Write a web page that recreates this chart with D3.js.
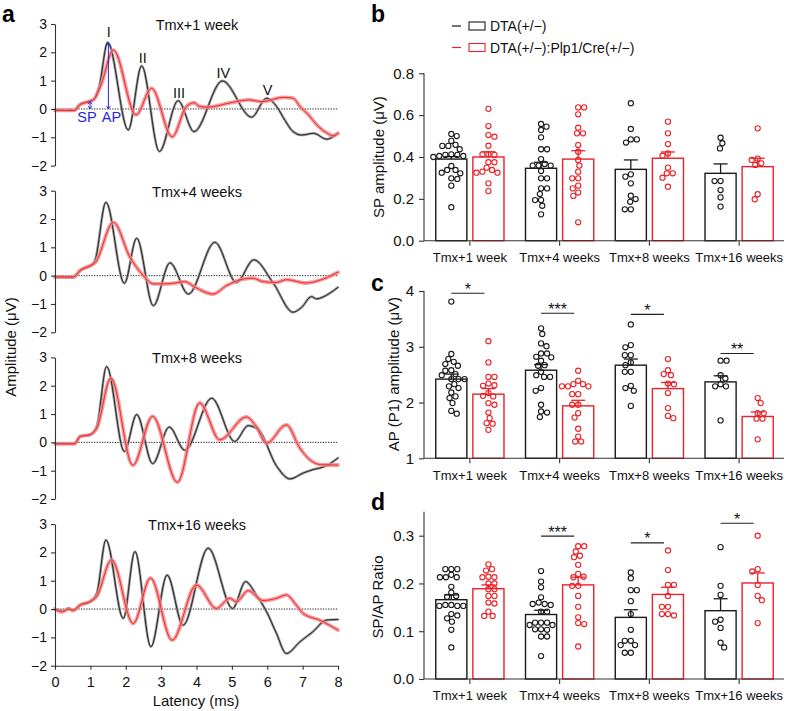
<!DOCTYPE html>
<html><head><meta charset="utf-8">
<script src="https://cdn.jsdelivr.net/npm/d3@7"></script>
<style>body{margin:0;background:#fff} svg{display:block}</style>
</head><body>
<svg id="chart" width="788" height="711"></svg>
<script>
// ---------------- DATA ----------------
const panelATitles = ["Tmx+1 week", "Tmx+4 weeks", "Tmx+8 weeks", "Tmx+16 weeks"];
const ampTicks = [-2, -1, 0, 1, 2, 3];
const latencyTicks = [0, 1, 2, 3, 4, 5, 6, 7, 8];

// Tmx+1 week
const w1BlackT = [0, 0.3, 0.55, 0.7, 0.95, 1.1, 1.25, 1.49, 2.07, 2.45, 2.95, 3.48, 3.93, 4.73, 5.56, 5.98, 6.27, 6.5, 6.73, 6.97, 7.31, 7.68, 8.0];
const w1BlackV = [-0.03, -0.05, -0.05, 0.15, 0.26, 0.34, 0.8, 2.35, -0.74, 1.52, -1.5, 0.29, -0.8, 0.99, -0.29, 0.38, 0.08, -0.4, -0.8, -0.92, -0.86, -1.07, -0.86];
const w1RedT = [0, 0.3, 0.55, 0.7, 0.95, 1.1, 1.3, 1.65, 2.29, 2.73, 3.31, 3.71, 3.93, 4.07, 4.3, 4.97, 5.47, 5.85, 6.45, 6.73, 6.93, 7.17, 7.4, 7.73, 7.86, 8.0];
const w1RedV = [-0.05, -0.05, -0.05, 0.15, 0.26, 0.34, 0.85, 2.08, -0.21, 0.73, -0.98, 0.08, 0.22, 0.1, 0.06, 0.22, 0.32, 0.26, 0.41, 0.38, 0.08, -0.21, -0.56, -0.88, -0.95, -0.86];
// Tmx+4 weeks
const w4BlackT = [0, 0.3, 0.52, 0.71, 1.04, 1.13, 1.44, 1.96, 2.31, 2.78, 3.25, 3.77, 4.52, 5.13, 5.62, 6.16, 6.73, 6.97, 7.25, 7.39, 7.73, 8.0];
const w4BlackV = [-0.03, -0.05, -0.05, 0.18, 0.38, 0.53, 2.59, -0.27, 1.32, -1.06, 0.45, -0.65, 1.18, -0.24, 0.56, -0.24, -1.29, -1.12, -0.74, -0.82, -0.65, -0.41];
const w4RedT = [0, 0.3, 0.52, 0.71, 1.04, 1.13, 1.65, 2.12, 2.5, 2.78, 3.06, 3.39, 3.67, 3.96, 4.47, 4.85, 5.32, 5.6, 5.88, 6.26, 6.54, 7.1, 7.58, 8.0];
const w4RedV = [-0.05, -0.05, -0.05, 0.18, 0.38, 0.45, 1.88, 0.65, 0.0, -0.29, -0.29, -0.26, -0.21, -0.41, -0.65, -0.35, -0.12, -0.09, -0.21, -0.24, -0.14, -0.26, -0.12, 0.12];
// Tmx+8 weeks
const w8BlackT = [0, 0.3, 0.55, 0.71, 0.99, 1.18, 1.46, 1.96, 2.31, 2.76, 3.23, 3.67, 4.43, 5.08, 5.46, 5.75, 6.27, 6.64, 7.02, 7.3, 7.63, 8.0];
const w8BlackV = [-0.03, -0.05, -0.05, 0.21, 0.27, 0.56, 2.68, -0.32, 0.98, -0.75, 0.54, -0.28, 1.56, 0.03, 0.59, 0.45, -0.85, -1.29, -1.08, -0.96, -0.85, -0.55];
const w8RedT = [0, 0.3, 0.55, 0.71, 0.99, 1.18, 1.58, 2.2, 2.76, 3.46, 4.09, 4.66, 5.41, 5.69, 5.98, 6.54, 6.92, 7.2, 7.53, 8.0];
const w8RedV = [-0.05, -0.05, -0.05, 0.21, 0.27, 0.5, 2.27, -0.81, 0.92, -1.41, 1.39, 0.09, 0.9, 0.56, -0.03, 0.62, -0.2, -0.61, -0.79, -0.8];
// Tmx+16 weeks
const w16BlackT = [0, 0.24, 0.38, 0.52, 0.71, 0.99, 1.18, 1.44, 1.93, 2.26, 2.71, 3.17, 3.62, 4.33, 5.02, 5.39, 5.69, 5.98, 6.26, 6.54, 6.92, 7.29, 7.67, 8.0];
const w16BlackV = [0, -0.06, 0.03, -0.03, 0.14, 0.26, 0.55, 2.44, -0.33, 2.03, -1.33, 1.2, -0.57, 2.15, 0.02, 0.97, 0.5, -0.09, -0.86, -1.57, -1.16, -0.8, -0.39, -0.37];
const w16RedT = [0, 0.2, 0.38, 0.52, 0.71, 0.99, 1.18, 1.6, 2.21, 2.7, 3.31, 4.0, 4.56, 4.94, 5.13, 5.46, 5.88, 6.26, 6.54, 6.82, 7.01, 7.48, 8.0];
const w16RedV = [0, -0.1, 0.0, -0.05, 0.14, 0.26, 0.45, 1.74, -0.51, 1.09, -1.1, 0.85, 0.02, 0.38, 0.26, 0.65, 0.3, 0.38, 0.5, 0.14, -0.15, -0.39, -0.74];

const peakLabels = ["I", "II", "III", "IV", "V"];
const peakT = [1.49, 2.45, 3.48, 4.73, 5.98];
const peakV = [2.35, 1.52, 0.29, 0.99, 0.38];
const markerLabels = ["SP", "AP"];
const markerT = [0.99, 1.51];
const markerV = [0.27, 2.33];

const categories = ["Tmx+1 week", "Tmx+4 weeks", "Tmx+8 weeks", "Tmx+16 weeks"];
const seriesNames = ["DTA(+/\u2212)", "DTA(+/\u2212):Plp1/Cre(+/\u2212)"];

const spTicks = [0, 0.2, 0.4, 0.6, 0.8];
const spMeanBlack = [0.39, 0.346, 0.341, 0.322];
const spSemBlack = [0.012, 0.029, 0.045, 0.045];
const spMeanRed = [0.40, 0.39, 0.394, 0.354];
const spSemRed = [0.025, 0.04, 0.03, 0.04];
const spBlack = [
  [0.51, 0.50, 0.477, 0.458, 0.453, 0.453, 0.437, 0.413, 0.41, 0.405, 0.40, 0.405, 0.41, 0.338, 0.338, 0.357, 0.325, 0.322, 0.298, 0.295, 0.263, 0.16],
  [0.558, 0.545, 0.529, 0.494, 0.437, 0.437, 0.39, 0.367, 0.359, 0.359, 0.359, 0.298, 0.298, 0.333, 0.25, 0.25, 0.223, 0.194, 0.194, 0.167, 0.126],
  [0.657, 0.534, 0.484, 0.469, 0.484, 0.317, 0.306, 0.274, 0.215, 0.199, 0.186, 0.15, 0.15],
  [0.492, 0.441, 0.466, 0.285, 0.285, 0.242, 0.207, 0.163]
];
const spRed = [
  [0.63, 0.548, 0.497, 0.505, 0.454, 0.413, 0.413, 0.41, 0.375, 0.375, 0.349, 0.325, 0.325, 0.33, 0.338, 0.274, 0.237],
  [0.637, 0.637, 0.604, 0.54, 0.513, 0.513, 0.457, 0.425, 0.386, 0.359, 0.33, 0.298, 0.298, 0.25, 0.263, 0.23, 0.214, 0.088],
  [0.569, 0.513, 0.462, 0.417, 0.406, 0.349, 0.322, 0.322, 0.301, 0.258],
  [0.537, 0.392, 0.386, 0.37, 0.362, 0.198, 0.222]
];

const apTicks = [1, 2, 3, 4];
const apMeanBlack = [2.42, 2.58, 2.67, 2.37];
const apSemBlack = [0.09, 0.1, 0.11, 0.11];
const apMeanRed = [2.15, 1.94, 2.25, 1.75];
const apSemRed = [0.1, 0.1, 0.11, 0.08];
const apBlack = [
  [3.81, 2.87, 2.78, 2.73, 2.69, 2.66, 2.58, 2.57, 2.51, 2.49, 2.42, 2.42, 2.42, 2.33, 2.29, 2.26, 2.18, 2.11, 2.08, 1.99, 1.85, 1.80],
  [3.33, 3.23, 3.06, 3.01, 2.88, 2.88, 2.81, 2.82, 2.75, 2.67, 2.66, 2.55, 2.49, 2.46, 2.46, 2.21, 2.26, 1.96, 1.84, 1.82, 1.74],
  [3.40, 3.03, 2.99, 2.85, 2.85, 2.72, 2.67, 2.55, 2.55, 2.30, 2.26, 2.21, 1.94],
  [2.75, 2.75, 2.49, 2.43, 2.33, 2.29, 2.29, 1.68]
];
const apRed = [
  [3.10, 2.72, 2.46, 2.46, 2.34, 2.31, 2.30, 2.17, 2.12, 2.11, 1.99, 1.96, 1.82, 1.72, 1.63, 1.62, 1.51],
  [2.57, 2.33, 2.33, 2.39, 2.29, 2.29, 2.29, 2.15, 2.15, 1.96, 1.96, 1.81, 1.73, 1.53, 1.39, 1.30, 1.30],
  [2.78, 2.58, 2.51, 2.49, 2.34, 2.33, 2.17, 1.90, 1.72, 1.76],
  [2.08, 1.99, 1.81, 1.81, 1.71, 1.71, 1.34]
];
const apSigLabels = ["*", "***", "*", "**"];
const apSigLevel = [3.96, 3.6, 3.58, 2.88];

const ratioTicks = [0, 0.1, 0.2, 0.3];
const ratioMeanBlack = [0.166, 0.135, 0.129, 0.143];
const ratioSemBlack = [0.01, 0.009, 0.016, 0.025];
const ratioMeanRed = [0.189, 0.197, 0.177, 0.201];
const ratioSemRed = [0.008, 0.016, 0.015, 0.021];
const ratioBlack = [
  [0.23, 0.23, 0.23, 0.213, 0.213, 0.213, 0.218, 0.193, 0.181, 0.174, 0.172, 0.155, 0.153, 0.153, 0.153, 0.155, 0.136, 0.133, 0.12, 0.127, 0.103, 0.066],
  [0.226, 0.204, 0.192, 0.171, 0.157, 0.155, 0.157, 0.16, 0.141, 0.141, 0.118, 0.118, 0.118, 0.113, 0.113, 0.104, 0.103, 0.104, 0.089, 0.089, 0.048],
  [0.223, 0.211, 0.186, 0.186, 0.163, 0.136, 0.103, 0.08, 0.08, 0.071, 0.071, 0.055, 0.055],
  [0.276, 0.195, 0.176, 0.12, 0.124, 0.107, 0.066, 0.076]
];
const ratioRed = [
  [0.24, 0.23, 0.227, 0.214, 0.213, 0.213, 0.2, 0.2, 0.188, 0.188, 0.174, 0.174, 0.16, 0.158, 0.141, 0.132, 0.132],
  [0.278, 0.278, 0.267, 0.258, 0.255, 0.239, 0.22, 0.214, 0.213, 0.195, 0.195, 0.174, 0.151, 0.129, 0.117, 0.115, 0.068],
  [0.269, 0.228, 0.197, 0.197, 0.174, 0.151, 0.151, 0.136, 0.133, 0.136],
  [0.30, 0.23, 0.225, 0.197, 0.174, 0.165, 0.117]
];
const ratioSigLabels = [null, "***", "*", "*"];
const ratioSigLevel = [null, 0.299, 0.285, 0.326];

// ---------------- DRAWING ----------------
const FONT = '"Liberation Sans", Arial, Helvetica, sans-serif';
const BLACK = "#1a1a1a", RED = "#ec2027", AXC = "#333", BLUE = "#2626e6";
const svg = d3.select("#chart");

function styleAxis(g, fs) {
  g.attr("font-family", null).attr("font-size", null);
  g.select(".domain").attr("stroke", AXC).attr("stroke-width", 1.1);
  g.selectAll(".tick line").attr("stroke", AXC).attr("stroke-width", 1.1);
  g.selectAll(".tick text").attr("font-family", FONT).attr("font-size", fs).attr("fill", "#111");
}
function txt(x, y, s, opt = {}) {
  const t = svg.append("text").attr("x", x).attr("y", y).text(s)
    .attr("font-family", FONT).attr("font-size", opt.fs || 14)
    .attr("fill", opt.fill || "#111").attr("text-anchor", opt.anchor || "start");
  if (opt.weight) t.attr("font-weight", opt.weight);
  if (opt.rotate) t.attr("transform", `rotate(-90,${x},${y})`);
  return t;
}

// ---- Panel a ----
const xLat = d3.scaleLinear().domain([0, 8]).range([55, 338]);
const plotTops = [24, 190.7, 357.4, 524.1];
const plotH = 141.6;
const waves = [
  [w1BlackT, w1BlackV, w1RedT, w1RedV],
  [w4BlackT, w4BlackV, w4RedT, w4RedV],
  [w8BlackT, w8BlackV, w8RedT, w8RedV],
  [w16BlackT, w16BlackV, w16RedT, w16RedV]
];
let yFirst;
waves.forEach((w, i) => {
  const y = d3.scaleLinear().domain([-2, 3]).range([plotTops[i] + plotH, plotTops[i]]);
  if (i === 0) yFirst = y;
  const g = svg.append("g");
  g.append("line").attr("x1", xLat(0)).attr("x2", xLat(8)).attr("y1", y(0)).attr("y2", y(0))
    .attr("stroke", "#222").attr("stroke-width", 1).attr("stroke-dasharray", "1.3,1.3");
  const line = d3.line().x(d => xLat(d[0])).y(d => y(d[1])).curve(d3.curveMonotoneX);
  const bd = d3.zip(w[0], w[1]), rd = d3.zip(w[2], w[3]);
  g.append("path").attr("d", line(bd)).attr("fill", "none").attr("stroke", "#9a9a9a")
    .attr("stroke-width", 2.6).attr("stroke-linejoin", "round").attr("stroke-linecap", "round");
  g.append("path").attr("d", line(bd)).attr("fill", "none").attr("stroke", BLACK).attr("stroke-width", 0.9);
  g.append("path").attr("d", line(rd)).attr("fill", "none").attr("stroke", "#f28a8a").attr("stroke-opacity", 0.85)
    .attr("stroke-width", 3.8).attr("stroke-linejoin", "round").attr("stroke-linecap", "round");
  g.append("path").attr("d", line(rd)).attr("fill", "none").attr("stroke", RED).attr("stroke-width", 0.9);
  const ax = g.append("g").attr("transform", "translate(55,0)")
    .call(d3.axisLeft(y).tickValues(ampTicks).tickFormat(d3.format("d")).tickSize(4).tickSizeOuter(0).tickPadding(4));
  styleAxis(ax, 14);
  txt(197, plotTops[i] + 6, panelATitles[i], { fs: 14.5, anchor: "middle" });
  if (i === 3) {
    const bx = g.append("g").attr("transform", `translate(0,${y(-2)})`)
      .call(d3.axisBottom(xLat).tickValues(latencyTicks).tickFormat(d3.format("d")).tickSize(4).tickSizeOuter(0).tickPadding(7));
    styleAxis(bx, 14.5);
  }
});
// peak labels
peakLabels.forEach((p, i) => {
  txt(xLat(peakT[i]) + 1, yFirst(peakV[i]) - (i === 0 ? 5 : 3), p, { fs: 14.5, anchor: "middle" });
});
// SP / AP markers
markerLabels.forEach((m, i) => {
  const x = xLat(markerT[i]);
  const y0 = yFirst(0), y1 = yFirst(markerV[i]);
  svg.append("line").attr("x1", x).attr("x2", x).attr("y1", y0).attr("y2", y1)
    .attr("stroke", BLUE).attr("stroke-width", 1);
  svg.append("path").attr("d", `M${x - 2},${y1 + 3}L${x},${y1}L${x + 2},${y1 + 3}`)
    .attr("fill", "none").attr("stroke", BLUE).attr("stroke-width", 0.9);
  svg.append("path").attr("d", `M${x - 2},${y0 - 3}L${x},${y0}L${x + 2},${y0 - 3}`)
    .attr("fill", "none").attr("stroke", BLUE).attr("stroke-width", 0.9);
  txt(x + (i === 0 ? -3 : 3), y0 + 13, m, { fs: 14.5, anchor: "middle", fill: BLUE });
});
txt(16, 347, "Amplitude (\u03bcV)", { fs: 15, anchor: "middle", rotate: true });
txt(196, 706, "Latency (ms)", { fs: 15, anchor: "middle" });

// ---- Bar panels ----
const xCat = d3.scaleBand().domain(categories).range([425, 784]);
const xSer = d3.scaleBand().domain([0, 1]).range([0, xCat.bandwidth()]).paddingInner(0.162).paddingOuter(0.29);

function swarm(vals, cx, y, r) {
  const placed = [];
  const order = vals.slice().sort((a, b) => b - a);
  order.forEach((v, n) => {
    const py = y(v);
    let found = 0;
    outer:
    for (let k = 0; k <= 60; k++) {
      const cands = k === 0 ? [0] : (n % 2 ? [k * 0.6, -k * 0.6] : [-k * 0.6, k * 0.6]);
      for (const dx of cands) {
        if (placed.every(p => (p.x - (cx + dx)) ** 2 + (p.y - py) ** 2 >= (2 * r + 0.5) ** 2)) {
          found = dx; break outer;
        }
      }
    }
    placed.push({ x: cx + found, y: py });
  });
  return placed;
}

function barPanel(cfg) {
  const y = d3.scaleLinear().domain(cfg.domain).range(cfg.range);
  const g = svg.append("g");
  const series = [
    { mean: cfg.meanB, sem: cfg.semB, pts: cfg.ptsB, col: BLACK },
    { mean: cfg.meanR, sem: cfg.semR, pts: cfg.ptsR, col: RED }
  ];
  series.forEach((s, si) => {
    categories.forEach((c, ci) => {
      const bx = xCat(c) + xSer(si);
      g.append("rect").attr("x", bx).attr("y", y(s.mean[ci])).attr("width", xSer.bandwidth())
        .attr("height", y(cfg.domain[0]) - y(s.mean[ci]))
        .attr("fill", "#fff").attr("stroke", s.col).attr("stroke-width", 1.4);
    });
  });
  series.forEach((s, si) => {
    categories.forEach((c, ci) => {
      const cx = xCat(c) + xSer(si) + xSer.bandwidth() / 2;
      swarm(s.pts[ci], cx, y, 2.6).forEach(p => {
        g.append("circle").attr("cx", p.x).attr("cy", p.y).attr("r", 2.6)
          .attr("fill", "none").attr("stroke", s.col).attr("stroke-width", 1.1);
      });
    });
  });
  series.forEach((s, si) => {
    categories.forEach((c, ci) => {
      const cx = xCat(c) + xSer(si) + xSer.bandwidth() / 2;
      const yt = y(s.mean[ci] + s.sem[ci]);
      g.append("line").attr("x1", cx).attr("x2", cx).attr("y1", y(s.mean[ci])).attr("y2", yt)
        .attr("stroke", s.col).attr("stroke-width", 1.3);
      g.append("line").attr("x1", cx - 7).attr("x2", cx + 7).attr("y1", yt).attr("y2", yt)
        .attr("stroke", s.col).attr("stroke-width", 1.3);
    });
  });
  if (cfg.sig) {
    categories.forEach((c, ci) => {
      if (!cfg.sig[ci]) return;
      const x1 = xCat(c) + xSer(0) + xSer.bandwidth() / 2;
      const x2 = xCat(c) + xSer(1) + xSer.bandwidth() / 2 - 4;
      const ly = y(cfg.sigLevel[ci]);
      g.append("line").attr("x1", x1).attr("x2", x2).attr("y1", ly).attr("y2", ly)
        .attr("stroke", "#222").attr("stroke-width", 1.1);
      g.append("text").attr("x", (x1 + x2) / 2).attr("y", ly + 1.5).text(cfg.sig[ci])
        .attr("font-family", FONT).attr("font-size", 16).attr("text-anchor", "middle").attr("fill", "#111");
    });
  }
  const ay = g.append("g").attr("transform", "translate(424,0)")
    .call(d3.axisLeft(y).tickValues(cfg.ticks).tickFormat(cfg.fmt).tickSize(5).tickSizeOuter(0).tickPadding(5));
  ay.select(".domain").attr("d", `M0,${y(cfg.domain[0])}V${y(cfg.domain[1])}`);
  styleAxis(ay, 15);
  const axb = g.append("g").attr("transform", `translate(0,${y(cfg.domain[0])})`)
    .call(d3.axisBottom(xCat).tickSize(5).tickSizeOuter(0).tickPadding(7));
  axb.select(".domain").attr("d", "M424,0H784");
  styleAxis(axb, 13);
  txt(cfg.labelX, cfg.labelY, cfg.label, { fs: 15, anchor: "middle", rotate: true });
}

barPanel({
  domain: [0, 0.8], range: [240.7, 73.3], ticks: spTicks, fmt: d3.format(".1f"),
  meanB: spMeanBlack, semB: spSemBlack, ptsB: spBlack,
  meanR: spMeanRed, semR: spSemRed, ptsR: spRed,
  label: "SP amplitude (\u03bcV)", labelX: 384, labelY: 157
});
barPanel({
  domain: [1, 4], range: [458.3, 291], ticks: apTicks, fmt: d3.format("d"),
  meanB: apMeanBlack, semB: apSemBlack, ptsB: apBlack,
  meanR: apMeanRed, semR: apSemRed, ptsR: apRed,
  sig: apSigLabels, sigLevel: apSigLevel,
  label: "AP (P1) amplitude (\u03bcV)", labelX: 399, labelY: 374
});
barPanel({
  domain: [0, 0.35], range: [679, 511.8], ticks: ratioTicks, fmt: d3.format(".1f"),
  meanB: ratioMeanBlack, semB: ratioSemBlack, ptsB: ratioBlack,
  meanR: ratioMeanRed, semR: ratioSemRed, ptsR: ratioRed,
  sig: ratioSigLabels, sigLevel: ratioSigLevel,
  label: "SP/AP Ratio", labelX: 383, labelY: 597
});

// Legend
const legendColors = [BLACK, RED];
seriesNames.forEach((n, i) => {
  const cy = 26 + i * 21.5;
  svg.append("line").attr("x1", 452).attr("x2", 461).attr("y1", cy).attr("y2", cy)
    .attr("stroke", legendColors[i]).attr("stroke-width", 1.2);
  svg.append("rect").attr("x", 469).attr("y", cy - 4).attr("width", 16).attr("height", 8)
    .attr("fill", "#fff").attr("stroke", legendColors[i]).attr("stroke-width", 1.1);
  txt(490, cy + 5.2, n, { fs: 14 });
});

// Panel letters
txt(2, 22, "a", { fs: 23, weight: "bold", fill: "#000" });
txt(371, 22, "b", { fs: 23, weight: "bold", fill: "#000" });
txt(371, 291, "c", { fs: 23, weight: "bold", fill: "#000" });
txt(371, 510, "d", { fs: 23, weight: "bold", fill: "#000" });
</script></body></html>
